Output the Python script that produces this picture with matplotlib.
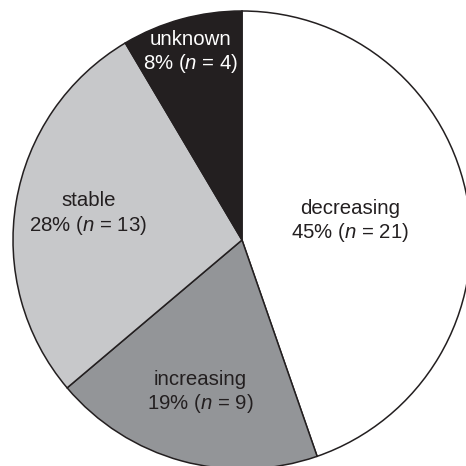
import numpy as np
import matplotlib
matplotlib.use('Agg')
import matplotlib.pyplot as plt

plt.rcParams['font.family'] = ['Liberation Sans', 'DejaVu Sans']
plt.rcParams['mathtext.fontset'] = 'custom'
plt.rcParams['mathtext.rm'] = 'Liberation Sans'
plt.rcParams['mathtext.it'] = 'Liberation Sans:italic'

# dados
categorias = ['decreasing', 'increasing', 'stable', 'unknown']
contagens = [21, 9, 13, 4]
percentuais = [45, 19, 28, 8]
cores = ['#ffffff', '#939598', '#c7c8ca', '#231f20']
cores_texto = ['#231f20', '#231f20', '#231f20', '#ffffff']
dist_rotulo = [0.48, 0.69, 0.68, 0.85]

fig = plt.figure(figsize=(4.66, 4.66), dpi=100)
ax = fig.add_axes([0, 0, 1, 1])
ax.set_xlim(0, 466)
ax.set_ylim(0, 466)
ax.set_aspect('equal')
ax.axis('off')

cx, cy, r = 242, 226, 229
wedges, _ = ax.pie(contagens, colors=cores, startangle=90, counterclock=False,
                   center=(cx, cy), radius=r, frame=True,
                   wedgeprops=dict(edgecolor='#231f20', linewidth=1.1))
ax.set_xlim(0, 466)
ax.set_ylim(0, 466)
ax.axis('off')

for w, cat, n, p, cor, d in zip(wedges, categorias, contagens, percentuais, cores_texto, dist_rotulo):
    ang = np.deg2rad((w.theta1 + w.theta2) / 2)
    x = cx + d * r * np.cos(ang)
    y = cy + d * r * np.sin(ang)
    ax.text(x, y, f"{cat}\n{p}% ($n$ = {n})", ha='center', va='center',
            fontsize=14.7, color=cor, linespacing=1.2)

plt.savefig('out.png', dpi=100)
plt.close()
